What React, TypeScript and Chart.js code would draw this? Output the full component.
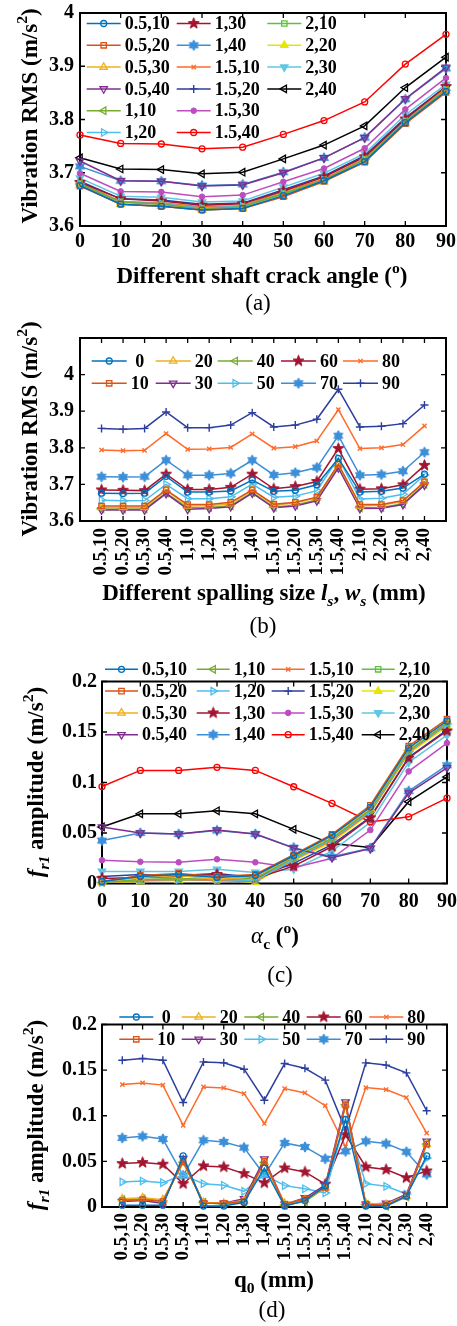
import React, { useEffect, useRef } from 'react';
import { Chart, registerables } from 'chart.js';

Chart.register(...registerables);

const FONT = "'Liberation Serif', 'Times New Roman', Times, serif";
Chart.defaults.font.family = FONT;

// ---------------- data ----------------
const crackAngles = [0, 10, 20, 30, 40, 50, 60, 70, 80, 90];
const angleLabels = ['0', '10', '20', '30', '40', '50', '60', '70', '80', '90'];
const spallSizes = ['0.5,10', '0.5,20', '0.5,30', '0.5,40', '1,10', '1,20', '1,30', '1,40',
  '1.5,10', '1.5,20', '1.5,30', '1.5,40', '2,10', '2,20', '2,30', '2,40'];

// Vibration RMS, one row per crack angle, columns follow spallSizes
const rmsAngle0 = [3.676, 3.675, 3.676, 3.722, 3.679, 3.679, 3.682, 3.712, 3.681, 3.684, 3.699, 3.771, 3.679, 3.681, 3.690, 3.728];
const rmsAngle10 = [3.641, 3.641, 3.641, 3.685, 3.645, 3.645, 3.651, 3.685, 3.646, 3.651, 3.665, 3.755, 3.645, 3.645, 3.656, 3.707];
const rmsAngle20 = [3.637, 3.637, 3.637, 3.684, 3.641, 3.642, 3.647, 3.684, 3.643, 3.649, 3.664, 3.754, 3.641, 3.643, 3.654, 3.706];
const rmsAngle30 = [3.630, 3.630, 3.630, 3.675, 3.632, 3.634, 3.639, 3.676, 3.636, 3.641, 3.655, 3.745, 3.634, 3.635, 3.645, 3.698];
const rmsAngle40 = [3.633, 3.633, 3.633, 3.677, 3.636, 3.637, 3.642, 3.678, 3.638, 3.643, 3.658, 3.748, 3.636, 3.637, 3.647, 3.701];
const rmsAngle50 = [3.657, 3.655, 3.656, 3.700, 3.661, 3.661, 3.666, 3.701, 3.665, 3.668, 3.683, 3.772, 3.660, 3.662, 3.673, 3.726];
const rmsAngle60 = [3.685, 3.684, 3.683, 3.728, 3.686, 3.686, 3.692, 3.728, 3.688, 3.694, 3.708, 3.798, 3.687, 3.688, 3.699, 3.752];
const rmsAngle70 = [3.721, 3.720, 3.721, 3.766, 3.725, 3.725, 3.730, 3.766, 3.726, 3.732, 3.746, 3.833, 3.725, 3.727, 3.736, 3.788];
const rmsAngle80 = [3.794, 3.792, 3.793, 3.839, 3.796, 3.797, 3.801, 3.838, 3.799, 3.803, 3.819, 3.904, 3.798, 3.800, 3.809, 3.860];
const rmsAngle90 = [3.853, 3.851, 3.853, 3.898, 3.855, 3.855, 3.862, 3.896, 3.857, 3.862, 3.878, 3.960, 3.857, 3.859, 3.866, 3.917];
const rmsByAngle = [rmsAngle0, rmsAngle10, rmsAngle20, rmsAngle30, rmsAngle40, rmsAngle50, rmsAngle60, rmsAngle70, rmsAngle80, rmsAngle90];

// f_r1 amplitude, one row per crack angle, columns follow spallSizes
const frAngle0 = [0.002, 0.002, 0.002, 0.056, 0.001, 0.001, 0.005, 0.0425, 0.001, 0.007, 0.023, 0.096, 0.001, 0.001, 0.012, 0.056];
const frAngle10 = [0.007, 0.008, 0.006, 0.050, 0.004, 0.004, 0.006, 0.050, 0.003, 0.009, 0.0215, 0.112, 0.003, 0.002, 0.012, 0.069];
const frAngle20 = [0.009, 0.010, 0.008, 0.049, 0.005, 0.004, 0.007, 0.049, 0.004, 0.008, 0.021, 0.112, 0.004, 0.003, 0.012, 0.069];
const frAngle30 = [0.006, 0.007, 0.004, 0.053, 0.004, 0.004, 0.009, 0.0525, 0.003, 0.010, 0.024, 0.115, 0.003, 0.004, 0.014, 0.072];
const frAngle40 = [0.008, 0.009, 0.007, 0.049, 0.005, 0.003, 0.005, 0.049, 0.002, 0.006, 0.021, 0.112, 0.003, 0.001, 0.011, 0.069];
const frAngle50 = [0.0275, 0.0285, 0.0267, 0.035, 0.0256, 0.0238, 0.0172, 0.0355, 0.0234, 0.020, 0.0155, 0.0958, 0.0256, 0.0227, 0.0142, 0.0536];
const frAngle60 = [0.0476, 0.0487, 0.0469, 0.0255, 0.045, 0.0439, 0.0366, 0.0264, 0.0428, 0.0384, 0.025, 0.0793, 0.0439, 0.041, 0.032, 0.0395];
const frAngle70 = [0.0757, 0.0775, 0.0745, 0.0345, 0.0731, 0.0713, 0.0651, 0.035, 0.0702, 0.0658, 0.0529, 0.061, 0.072, 0.0695, 0.0605, 0.0357];
const frAngle80 = [0.1342, 0.136, 0.1336, 0.0895, 0.1316, 0.1305, 0.1243, 0.0915, 0.1298, 0.125, 0.111, 0.066, 0.1309, 0.1287, 0.12, 0.081];
const frAngle90 = [0.1609, 0.1627, 0.1609, 0.1145, 0.159, 0.158, 0.151, 0.117, 0.1572, 0.152, 0.139, 0.0845, 0.158, 0.1555, 0.147, 0.1055];
const frByAngle = [frAngle0, frAngle10, frAngle20, frAngle30, frAngle40, frAngle50, frAngle60, frAngle70, frAngle80, frAngle90];

// ---------------- styles ----------------
const seriesColors = ['#0072BD', '#D95319', '#EDB120', '#7E2F8E', '#77AC30', '#4DBEEE', '#A2142F', '#3B8ED8',
  '#FF6A2A', '#2C3E9E', '#BD4DBF', '#FF0000', '#5DC23B', '#E6E600', '#62C6E2', '#000000'];
const seriesMarkers = ['circle', 'square', 'triangle', 'triangleDown', 'triangleLeft', 'triangleRight', 'pentagram', 'hexagram',
  'x', 'plus', 'dot', 'circle', 'square', 'triangleFilled', 'triangleDownFilled', 'triangleLeft'];

type Seg = { t: string; it?: boolean; sub?: boolean; sup?: boolean; w?: string };

function starImage(color: string, points: number, outer: number, inner: number) {
  const s = Math.ceil(outer * 2 + 3);
  const c = document.createElement('canvas');
  c.width = s; c.height = s;
  const g = c.getContext('2d')!;
  g.translate(s / 2, s / 2);
  g.beginPath();
  for (let k = 0; k < points * 2; k++) {
    const r = k % 2 === 0 ? outer : inner;
    const a = -Math.PI / 2 + (k * Math.PI) / points;
    g.lineTo(r * Math.cos(a), r * Math.sin(a));
  }
  g.closePath();
  g.fillStyle = color; g.fill();
  g.strokeStyle = color; g.lineWidth = 1; g.stroke();
  return c;
}

const CLEAR = 'rgba(0,0,0,0)';
function markerSpec(kind: string, color: string): any {
  switch (kind) {
    case 'circle': return { pointStyle: 'circle', rotation: 0, radius: 3, bg: CLEAR, bw: 1.3 };
    case 'square': return { pointStyle: 'rect', rotation: 0, radius: 3.8, bg: CLEAR, bw: 1.3 };
    case 'triangle': return { pointStyle: 'triangle', rotation: 0, radius: 4.3, bg: CLEAR, bw: 1.3 };
    case 'triangleFilled': return { pointStyle: 'triangle', rotation: 0, radius: 4.3, bg: color, bw: 1.3 };
    case 'triangleDown': return { pointStyle: 'triangle', rotation: 180, radius: 4.3, bg: CLEAR, bw: 1.3 };
    case 'triangleDownFilled': return { pointStyle: 'triangle', rotation: 180, radius: 4.3, bg: color, bw: 1.3 };
    case 'triangleLeft': return { pointStyle: 'triangle', rotation: 270, radius: 4.3, bg: CLEAR, bw: 1.3 };
    case 'triangleRight': return { pointStyle: 'triangle', rotation: 90, radius: 4.3, bg: CLEAR, bw: 1.3 };
    case 'pentagram': return { pointStyle: starImage(color, 5, 5.8, 2.4), rotation: 0, radius: 5, bg: color, bw: 1 };
    case 'hexagram': return { pointStyle: starImage(color, 6, 5.2, 3.0), rotation: 0, radius: 5, bg: color, bw: 1 };
    case 'x': return { pointStyle: 'crossRot', rotation: 0, radius: 3, bg: CLEAR, bw: 1.4 };
    case 'plus': return { pointStyle: 'cross', rotation: 0, radius: 4, bg: CLEAR, bw: 1.4 };
    case 'dot': return { pointStyle: 'circle', rotation: 0, radius: 2.8, bg: color, bw: 1 };
  }
  return { pointStyle: 'circle', rotation: 0, radius: 3, bg: CLEAR, bw: 1.3 };
}

function drawMarker(ctx: CanvasRenderingContext2D, m: any, color: string, x: number, y: number) {
  const ps = m.pointStyle;
  if (typeof ps !== 'string') {
    ctx.drawImage(ps, x - ps.width / 2, y - ps.height / 2);
    return;
  }
  const r = m.radius;
  ctx.save();
  ctx.translate(x, y);
  ctx.rotate((m.rotation * Math.PI) / 180);
  ctx.beginPath();
  if (ps === 'circle') ctx.arc(0, 0, r, 0, Math.PI * 2);
  else if (ps === 'rect') { const s = r * Math.SQRT1_2; ctx.rect(-s, -s, 2 * s, 2 * s); }
  else if (ps === 'triangle') {
    for (let k = 0; k < 3; k++) {
      const a = (k * 2 * Math.PI) / 3;
      ctx.lineTo(Math.sin(a) * r, -Math.cos(a) * r);
    }
    ctx.closePath();
  } else if (ps === 'cross') { ctx.moveTo(0, -r); ctx.lineTo(0, r); ctx.moveTo(-r, 0); ctx.lineTo(r, 0); }
  else if (ps === 'crossRot') {
    const d = r * Math.SQRT1_2;
    ctx.moveTo(-d, -d); ctx.lineTo(d, d); ctx.moveTo(-d, d); ctx.lineTo(d, -d);
  }
  ctx.fillStyle = m.bg;
  ctx.strokeStyle = color;
  ctx.lineWidth = m.bw;
  if (ps !== 'cross' && ps !== 'crossRot') ctx.fill();
  ctx.stroke();
  ctx.restore();
}

function drawRich(ctx: CanvasRenderingContext2D, segs: Seg[], cx: number, baseY: number, size: number, weight = 'bold') {
  const parts = segs.map((s) => {
    const sz = s.sub || s.sup ? size * 0.68 : size;
    const font = `${s.it ? 'italic ' : ''}${s.w ?? weight} ${sz}px ${FONT}`;
    ctx.font = font;
    return { s, font, w: ctx.measureText(s.t).width, dy: s.sub ? size * 0.28 : s.sup ? -size * 0.42 : 0 };
  });
  const total = parts.reduce((a, p) => a + p.w, 0);
  let x = cx - total / 2;
  ctx.textAlign = 'left';
  ctx.textBaseline = 'alphabetic';
  ctx.fillStyle = '#000';
  for (const p of parts) {
    ctx.font = p.font;
    ctx.fillText(p.s.t, x, baseY + p.dy);
    x += p.w;
  }
}

// ---------------- panel layout ----------------
const W = 457;
const rmsTitle: Seg[] = [{ t: 'Vibration RMS (m/s' }, { t: '2', sup: true }, { t: ')' }];
const frTitle: Seg[] = [{ t: 'f', it: true }, { t: 'r1', it: true, sub: true }, { t: ' amplitude (m/s' }, { t: '2', sup: true }, { t: ')' }];

interface Panel {
  top: number; height: number; L: number; R: number; T: number; B: number;
  xKind: 'angle' | 'spall';
  yMin: number; yMax: number; yStep: number; yHide: number[];
  xPad: number; yPad: number;
  bySpall: boolean; matrix: number[][];
  legendCols: number[]; legendItems: number[][]; legendY0: number; legendDy: number; legendLen: number; legendCenter: boolean;
  yTitle: Seg[]; yTitleX: number; yTitleY: number;
  xTitle: Seg[]; xTitleX: number; xTitleY: number;
  caption: string; capX: number; capY: number;
}

const PANELS: Panel[] = [
  {
    top: 0, height: 318, L: 80, R: 446, T: 13, B: 226, xKind: 'angle',
    yMin: 3.6, yMax: 4.0, yStep: 0.1, yHide: [], xPad: 4, yPad: 6,
    bySpall: true, matrix: rmsByAngle,
    legendCols: [86.7, 176.7, 267.3], legendItems: [[0, 1, 2, 3, 4, 5], [6, 7, 8, 9, 10, 11], [12, 13, 14, 15]],
    legendY0: 23.5, legendDy: 21.8, legendLen: 34, legendCenter: false,
    yTitle: rmsTitle, yTitleX: 37, yTitleY: 116,
    xTitle: [{ t: 'Different shaft crack angle (' }, { t: 'o', sup: true }, { t: ')' }], xTitleX: 262, xTitleY: 283,
    caption: '(a)', capX: 258, capY: 310,
  },
  {
    top: 318, height: 324, L: 80, R: 446, T: 338, B: 521, xKind: 'spall',
    yMin: 3.6, yMax: 4.1, yStep: 0.1, yHide: [4.1], xPad: 7, yPad: 6,
    bySpall: false, matrix: rmsByAngle,
    legendCols: [91.7, 155.7, 217.7, 281, 343], legendItems: [[0, 1], [2, 3], [4, 5], [6, 7], [8, 9]],
    legendY0: 361, legendDy: 22.3, legendLen: 35, legendCenter: true,
    yTitle: rmsTitle, yTitleX: 37, yTitleY: 429,
    xTitle: [{ t: 'Different spalling size ' }, { t: 'l', it: true }, { t: 's', it: true, sub: true }, { t: ', ' },
      { t: 'w', it: true }, { t: 's', it: true, sub: true }, { t: ' (mm)' }], xTitleX: 264, xTitleY: 600,
    caption: '(b)', capX: 263, capY: 633,
  },
  {
    top: 642, height: 348, L: 102, R: 447, T: 681.5, B: 883.5, xKind: 'angle',
    yMin: 0, yMax: 0.2, yStep: 0.05, yHide: [], xPad: 6, yPad: 5,
    bySpall: true, matrix: frByAngle,
    legendCols: [105, 196.7, 271.7, 361.7], legendItems: [[0, 1, 2, 3], [4, 5, 6, 7], [8, 9, 10, 11], [12, 13, 14, 15]],
    legendY0: 669.3, legendDy: 21.8, legendLen: 33, legendCenter: false,
    yTitle: frTitle, yTitleX: 43, yTitleY: 782,
    xTitle: [{ t: 'α', it: true, w: 'normal' }, { t: 'c', sub: true }, { t: ' (' }, { t: 'o', sup: true }, { t: ')' }], xTitleX: 275, xTitleY: 943,
    caption: '(c)', capX: 280, capY: 982,
  },
  {
    top: 990, height: 336, L: 102, R: 447, T: 1024.5, B: 1207, xKind: 'spall',
    yMin: 0, yMax: 0.2, yStep: 0.05, yHide: [], xPad: 6, yPad: 5,
    bySpall: false, matrix: frByAngle,
    legendCols: [119.3, 181.7, 244.3, 306.7, 369.3], legendItems: [[0, 1], [2, 3], [4, 5], [6, 7], [8, 9]],
    legendY0: 1017, legendDy: 22.3, legendLen: 34, legendCenter: true,
    yTitle: frTitle, yTitleX: 43, yTitleY: 1115,
    xTitle: [{ t: 'q' }, { t: '0', sub: true }, { t: ' (mm)' }], xTitleX: 274, xTitleY: 1287,
    caption: '(d)', capX: 272, capY: 1317,
  },
];

function makeChart(canvas: HTMLCanvasElement, p: Panel) {
  const isSpall = p.xKind === 'spall';
  const seriesLabels = p.bySpall ? spallSizes : angleLabels;
  const series = seriesLabels.map((label, i) => {
    const values = p.bySpall ? p.matrix.map((row) => row[i]) : p.matrix[i];
    const color = seriesColors[i];
    const m = markerSpec(seriesMarkers[i], color);
    return { label, values, color, m };
  });

  const datasets = series.map((s) => ({
    label: s.label,
    data: s.values.map((v, i) => ({ x: isSpall ? i + 1 : crackAngles[i], y: v })),
    borderColor: s.color,
    backgroundColor: s.m.bg,
    borderWidth: 1.5,
    pointStyle: s.m.pointStyle,
    pointRotation: s.m.rotation,
    pointRadius: s.m.radius,
    pointHoverRadius: s.m.radius,
    pointBorderWidth: s.m.bw,
    pointBorderColor: s.color,
    pointBackgroundColor: s.m.bg,
    clip: false,
    fill: false,
    tension: 0,
  }));

  const TL = 5;
  const panelPlugin = {
    id: 'panelDecor',
    beforeDatasetsDraw(chart: any) {
      const { ctx, chartArea } = chart;
      const { left, right, top, bottom } = chartArea;
      const xs = chart.scales.x;
      const ys = chart.scales.y;
      ctx.save();
      ctx.strokeStyle = '#000';
      ctx.lineWidth = 1.3;
      ctx.beginPath();
      for (const t of xs.ticks) {
        const px = xs.getPixelForValue(t.value);
        ctx.moveTo(px, bottom); ctx.lineTo(px, bottom - TL);
        ctx.moveTo(px, top); ctx.lineTo(px, top + TL);
      }
      for (const t of ys.ticks) {
        const py = ys.getPixelForValue(t.value);
        ctx.moveTo(left, py); ctx.lineTo(left + TL, py);
        ctx.moveTo(right, py); ctx.lineTo(right - TL, py);
      }
      ctx.stroke();
      ctx.lineWidth = 2;
      ctx.strokeRect(left, top, right - left, bottom - top);
      ctx.restore();
    },
    afterDraw(chart: any) {
      const ctx: CanvasRenderingContext2D = chart.ctx;
      const off = p.top;
      ctx.save();
      // legend
      const lf = `bold 18px ${FONT}`;
      p.legendCols.forEach((cx, ci) => {
        const items = p.legendItems[ci];
        ctx.font = lf;
        const maxW = Math.max(...items.map((k) => ctx.measureText(series[k].label).width));
        items.forEach((k, ri) => {
          const s = series[k];
          const y = p.legendY0 + ri * p.legendDy - off;
          ctx.strokeStyle = s.color;
          ctx.lineWidth = 1.5;
          ctx.beginPath();
          ctx.moveTo(cx, y); ctx.lineTo(cx + p.legendLen, y);
          ctx.stroke();
          drawMarker(ctx, s.m, s.color, cx + p.legendLen / 2, y);
          ctx.font = lf;
          ctx.fillStyle = '#000';
          ctx.textBaseline = 'middle';
          ctx.textAlign = 'left';
          const w = ctx.measureText(s.label).width;
          const tx = cx + p.legendLen + 4 + (p.legendCenter ? (maxW - w) / 2 : 0);
          ctx.fillText(s.label, tx, y + 1);
        });
      });
      // y title
      ctx.save();
      ctx.translate(p.yTitleX, p.yTitleY - off);
      ctx.rotate(-Math.PI / 2);
      drawRich(ctx, p.yTitle, 0, 0, 23);
      ctx.restore();
      // x title
      drawRich(ctx, p.xTitle, p.xTitleX, p.xTitleY - off, 23);
      // caption
      drawRich(ctx, [{ t: p.caption }], p.capX, p.capY - off, 23, 'normal');
      ctx.restore();
    },
  };

  const xScale: any = {
    type: 'linear',
    min: isSpall ? 0 : 0,
    max: isSpall ? spallSizes.length + 1 : 90,
    grid: { display: false, drawTicks: false },
    border: { display: false },
    ticks: isSpall
      ? {
        autoSkip: false, minRotation: 90, maxRotation: 90, padding: p.xPad, color: '#000',
        font: { size: 19, weight: 'bold', family: FONT },
        callback: (v: number) => spallSizes[Math.round(v) - 1] ?? '',
      }
      : {
        stepSize: 10, maxRotation: 0, autoSkip: false, padding: p.xPad, color: '#000',
        font: { size: 20, weight: 'bold', family: FONT },
        callback: (v: number) => String(v),
      },
    afterFit: (s: any) => {
      s.height = p.top + p.height - p.B;
      s.paddingLeft = 0; s.paddingRight = 0;
    },
  };
  if (isSpall) {
    xScale.afterBuildTicks = (s: any) => {
      s.ticks = spallSizes.map((_, i) => ({ value: i + 1 }));
    };
  }

  return new Chart(canvas, {
    type: 'line',
    data: { datasets } as any,
    options: {
      animation: false,
      responsive: false,
      maintainAspectRatio: false,
      events: [],
      layout: { padding: { left: 0, right: W - p.R, top: p.T - p.top, bottom: 0 } },
      plugins: { legend: { display: false }, tooltip: { enabled: false }, title: { display: false } },
      scales: {
        x: xScale,
        y: {
          type: 'linear',
          min: p.yMin,
          max: p.yMax,
          grid: { display: false, drawTicks: false },
          border: { display: false },
          ticks: {
            stepSize: p.yStep, padding: p.yPad, color: '#000',
            font: { size: 20, weight: 'bold', family: FONT },
            callback: (v: number) => {
              const n = +Number(v).toFixed(3);
              if (p.yHide.some((h) => Math.abs(h - n) < 1e-6)) return '';
              return String(n);
            },
          },
          afterFit: (s: any) => {
            s.width = p.L;
            s.paddingTop = 0; s.paddingBottom = 0;
          },
        },
      },
    } as any,
    plugins: [panelPlugin],
  });
}

export default function App() {
  const r0 = useRef<HTMLCanvasElement>(null);
  const r1 = useRef<HTMLCanvasElement>(null);
  const r2 = useRef<HTMLCanvasElement>(null);
  const r3 = useRef<HTMLCanvasElement>(null);
  const refs = [r0, r1, r2, r3];

  useEffect(() => {
    const charts = PANELS.map((p, i) => makeChart(refs[i].current as HTMLCanvasElement, p));
    return () => charts.forEach((c) => c.destroy());
  }, []);

  return (
    <div style={{ position: 'absolute', left: 0, top: 0, width: W, height: 1326, overflow: 'hidden', background: '#fff' }}>
      {PANELS.map((p, i) => (
        <canvas
          key={i}
          ref={refs[i]}
          width={W}
          height={p.height}
          style={{ position: 'absolute', left: 0, top: p.top, width: W, height: p.height, display: 'block' }}
        />
      ))}
    </div>
  );
}
